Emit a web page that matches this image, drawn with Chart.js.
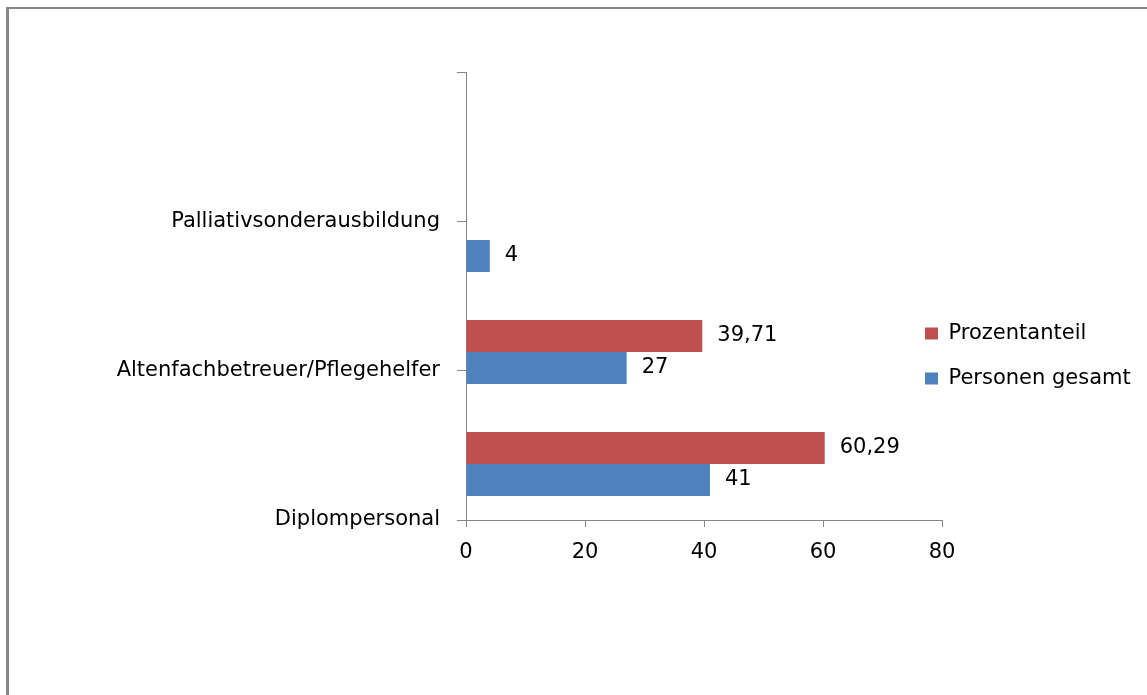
<html>
    <head>
        <script src='https://cdn.jsdelivr.net/npm/chart.js'></script>
    </head>
    <style>
        body { margin: 0; background: #fff; }
        .frame {
            position: absolute;
            left: 6px;
            top: 7px;
            width: 1141px;
            height: 688px;
            border-left: 3px solid #868686;
            border-top: 2px solid #868686;
        }
    </style>
    <body>
        <div class='frame'>
            <canvas id='chart1' width='1138' height='686'></canvas>
        </div>
        <script>
            // values
            var categories = ['Palliativsonderausbildung', 'Altenfachbetreuer/Pflegehelfer', 'Diplompersonal'];
            var prozentanteil = [null, 39.71, 60.29];
            var personenGesamt = [4, 27, 41];
            var xTicks = [0, 20, 40, 60, 80];

            // the original puts its labels on the tick marks while the bars sit lower,
            // so both y axes get one spare slot on top
            var labels = [''].concat(categories);

            var valueLabels = {
                id: 'valueLabels',
                afterDatasetsDraw: function(chart) {
                    var ctx = chart.ctx;
                    ctx.save();
                    ctx.font = '21px "DejaVu Sans"';
                    ctx.fillStyle = '#000';
                    ctx.textAlign = 'left';
                    ctx.textBaseline = 'middle';
                    chart.data.datasets.forEach(function(ds, i) {
                        chart.getDatasetMeta(i).data.forEach(function(bar, j) {
                            var v = ds.data[j];
                            if (v === null || v === undefined) return;
                            ctx.fillText(String(v).replace('.', ','), bar.x + 15, bar.y);
                        });
                    });
                    ctx.restore();
                }
            };

            // Excel let the legend overlap the end of the plot area,
            // so the legend takes no layout space and is moved here
            var legendOffset = {x: -41, y: 60};
            var legendNudge = {
                id: 'legendNudge',
                afterLayout: function(chart) {
                    var lg = chart.legend;
                    var area = chart.chartArea;
                    lg.left = area.right + legendOffset.x;
                    lg.right = chart.width;
                    lg.top = area.top + legendOffset.y;
                    lg.bottom = area.bottom + legendOffset.y;
                }
            };

            Chart.defaults.font.family = '"DejaVu Sans"';
            Chart.defaults.font.size = 21;
            Chart.defaults.color = '#000';

            var chart = new Chart('chart1', {
                type: 'bar',
                data: {
                    labels: labels,
                    datasets: [{
                        label: 'Prozentanteil',
                        data: [null].concat(prozentanteil),
                        backgroundColor: '#C0504D',
                        borderWidth: 0,
                        yAxisID: 'yData'
                    }, {
                        label: 'Personen gesamt',
                        data: [null].concat(personenGesamt),
                        backgroundColor: '#4F81BD',
                        borderWidth: 0,
                        yAxisID: 'yData'
                    }]
                },
                options: {
                    indexAxis: 'y',
                    responsive: false,
                    animation: false,
                    categoryPercentage: 0.5714,
                    barPercentage: 1,
                    layout: {
                        padding: {top: 63, left: 0, right: 205, bottom: 135}
                    },
                    plugins: {
                        legend: {
                            position: 'chartArea',
                            labels: {
                                boxWidth: 13,
                                boxHeight: 12,
                                padding: 24,
                                color: '#000',
                                font: {size: 21}
                            }
                        },
                        tooltip: {enabled: false}
                    },
                    scales: {
                        x: {
                            type: 'linear',
                            position: 'bottom',
                            min: xTicks[0],
                            max: xTicks[xTicks.length - 1],
                            afterBuildTicks: function(scale) {
                                scale.ticks = xTicks.map(function(v) { return {value: v}; });
                            },
                            afterFit: function(scale) { scale.height = 40; },
                            border: {color: '#868686', width: 1},
                            grid: {drawOnChartArea: false, tickLength: 7, color: '#868686'},
                            ticks: {padding: 13, color: '#000', font: {size: 21}}
                        },
                        y: {
                            type: 'category',
                            position: 'left',
                            offset: false,
                            afterFit: function(scale) { scale.width = 457; },
                            border: {color: '#868686', width: 1},
                            grid: {offset: false, drawOnChartArea: false, tickLength: 9, color: '#868686'},
                            ticks: {padding: 17, color: '#000', font: {size: 21}}
                        },
                        yData: {
                            type: 'category',
                            position: 'left',
                            offset: true,
                            display: false
                        }
                    }
                },
                plugins: [valueLabels, legendNudge]
            });
        </script>
    </body>
</html>
